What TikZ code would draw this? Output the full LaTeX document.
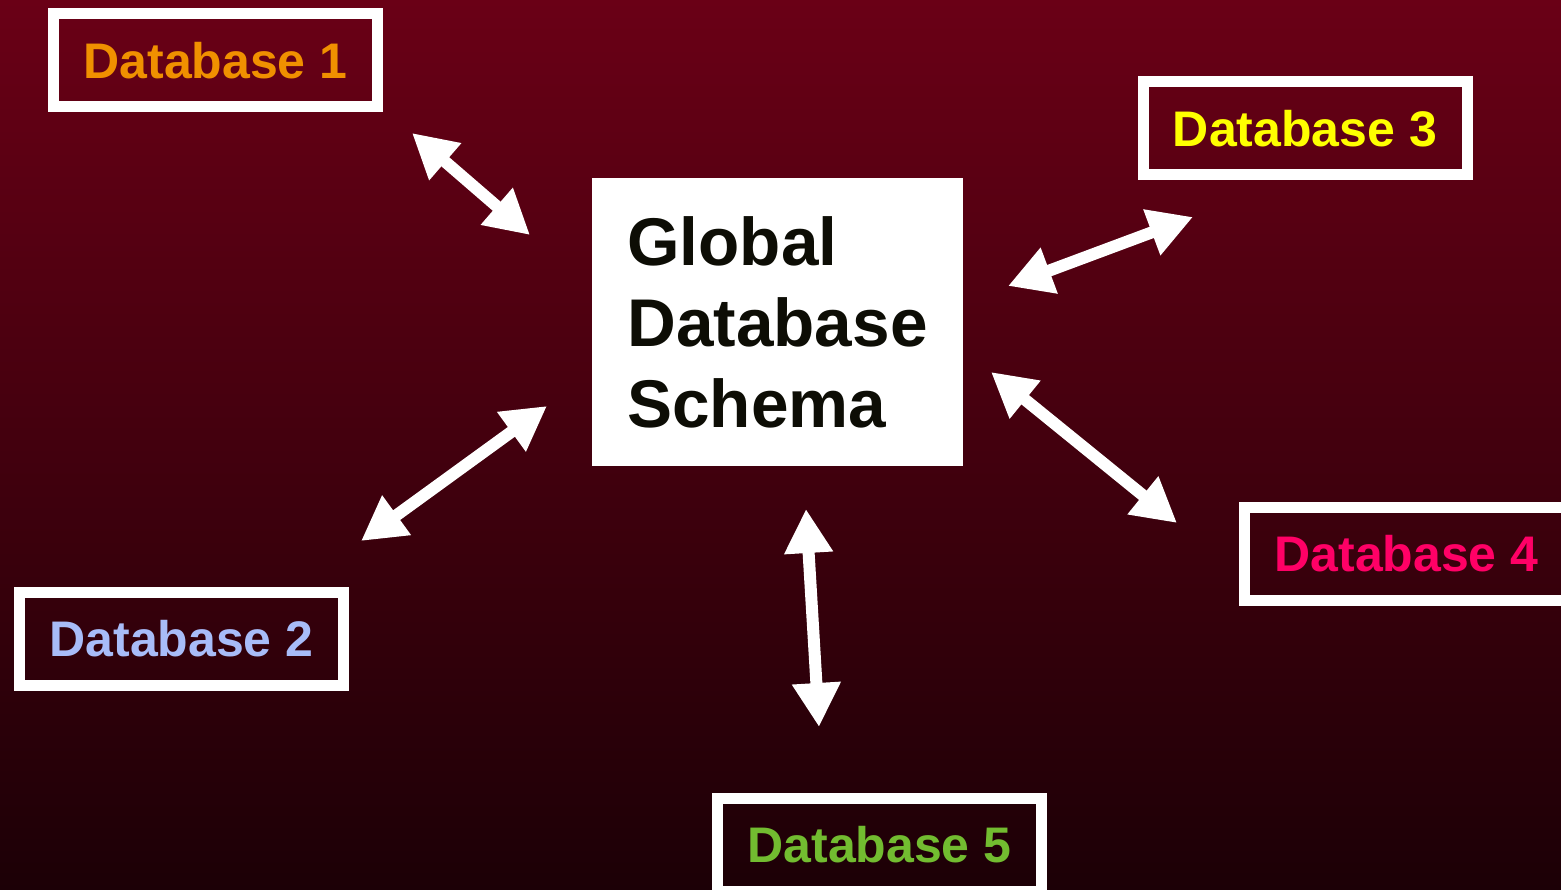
\documentclass[tikz,border=0pt]{standalone}
\usepackage{fontspec}
\setmainfont{Liberation Sans}
\usetikzlibrary{arrows.meta}

\definecolor{bgtop}{HTML}{6A0016}
\definecolor{bgbot}{HTML}{1C0006}
\definecolor{dbone}{HTML}{F09000}
\definecolor{dbtwo}{HTML}{A8BCF8}
\definecolor{dbthree}{HTML}{FFFF00}
\definecolor{dbfour}{HTML}{FF0066}
\definecolor{dbfive}{HTML}{72BC30}
\definecolor{ink}{HTML}{0D0D05}

\tikzset{
  dbbox/.style={draw=white, line width=11pt, minimum width=324pt,
    minimum height=93pt, inner sep=0pt,
    font=\fontsize{50}{60}\selectfont\bfseries},
  schemabox/.style={fill=white, minimum width=369pt, minimum height=288pt,
    inner xsep=35pt, align=left, text=ink,
    font=\fontsize{67.5}{81}\selectfont\bfseries},
  link/.style={draw=white, line width=12pt,
    {Triangle[length=44pt, width=46pt]}-{Triangle[length=44pt, width=46pt]}}
}

\begin{document}
\begin{tikzpicture}[x=1pt, y=-1pt]
  % background
  \useasboundingbox (0,0) rectangle (1561,890);
  \shade[top color=bgtop, bottom color=bgbot] (0,0) rectangle (1561,890);

  % central schema
  \node[schemabox] (gs) at (777.5,322) {Global\\Database\\Schema};

  % local databases
  \node[dbbox, text=dbone]   (db1) at (215.5,60.5) {Database 1};
  \node[dbbox, text=dbtwo]   (db2) at (181.5,639)  {Database 2};
  \node[dbbox, text=dbthree] (db3) at (1305,128.5) {Database 3};
  \node[dbbox, text=dbfour]  (db4) at (1406.5,554) {Database 4};
  \node[dbbox, text=dbfive]  (db5) at (879.5,845)  {Database 5};

  % arrow end points
  \coordinate (a1o) at (412,133);  \coordinate (a1i) at (530,235);
  \coordinate (a2o) at (361,541);  \coordinate (a2i) at (547,406);
  \coordinate (a3o) at (1193,217); \coordinate (a3i) at (1008,286);
  \coordinate (a4o) at (1177,523); \coordinate (a4i) at (991,372);
  \coordinate (a5o) at (819,727);  \coordinate (a5i) at (806,509);

  % two-way links
  \draw[link] (a1o) -- (a1i);
  \draw[link] (a2o) -- (a2i);
  \draw[link] (a3o) -- (a3i);
  \draw[link] (a4o) -- (a4i);
  \draw[link] (a5o) -- (a5i);
\end{tikzpicture}
\end{document}
